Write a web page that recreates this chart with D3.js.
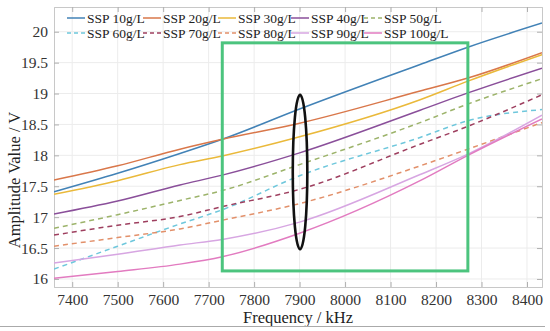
<!DOCTYPE html>
<html><head><meta charset="utf-8">
<script src="https://cdn.jsdelivr.net/npm/d3@7"></script>
<style>
body{margin:0;background:#fff;font-family:"Liberation Serif"}
text{font-family:"Liberation Serif"}
</style>
</head><body><svg id="c" width="550" height="331" font-family="Liberation Serif"></svg>
<script>
const freq = [7360, 7500, 7637, 7730, 7900, 8165, 8270, 8433];
const seriesNames = ["SSP 10g/L","SSP 20g/L","SSP 30g/L","SSP 40g/L","SSP 50g/L","SSP 60g/L","SSP 70g/L","SSP 80g/L","SSP 90g/L","SSP 100g/L"];
const s10  = [17.41, 17.71, 18.03, 18.26, 18.75, 19.47, 19.75, 20.14];
const s20  = [17.60, 17.83, 18.10, 18.26, 18.52, 19.04, 19.25, 19.66];
const s30  = [17.37, 17.59, 17.85, 17.99, 18.30, 18.90, 19.20, 19.63];
const s40  = [17.05, 17.26, 17.52, 17.68, 18.04, 18.73, 19.01, 19.41];
const s50  = [16.82, 17.04, 17.27, 17.43, 17.85, 18.53, 18.83, 19.24];
const s60  = [16.16, 16.53, 16.89, 17.12, 17.67, 18.29, 18.56, 18.74];
const s70  = [16.71, 16.87, 17.01, 17.17, 17.45, 18.18, 18.47, 18.98];
const s80  = [16.53, 16.67, 16.81, 16.95, 17.22, 17.83, 18.10, 18.53];
const s90  = [16.26, 16.40, 16.55, 16.64, 16.92, 17.69, 18.02, 18.65];
const s100 = [16.01, 16.12, 16.24, 16.36, 16.74, 17.59, 18.00, 18.59];
const allSeries = [s10,s20,s30,s40,s50,s60,s70,s80,s90,s100];
const colors = ["#4282b6","#d9774a","#eab93a","#8a4f9a","#9cb36a","#6ec7dc","#9e3f5f","#e2906a","#d7a6e2","#e27bc0"];
const dashed = [false,false,false,false,true,true,true,true,false,false];
const xTicks = [7400,7500,7600,7700,7800,7900,8000,8100,8200,8300,8400];
const yTicks = [16,16.5,17,17.5,18,18.5,19,19.5,20];
const box = {x0:7730, x1:8270, y0:16.13, y1:19.82};
const ell = {cx:7901, cy:17.73, rxk:16, top:18.98};

const svg = d3.select("#c");
const L=54, R=542, T=7, B=287;
const x = d3.scaleLinear().domain([7360,8433]).range([L,R]);
const y = d3.scaleLinear().domain([15.87,20.4]).range([B,T]);

// grid
const g = svg.append("g");
g.selectAll(".vg").data(xTicks).enter().append("line")
 .attr("x1",d=>x(d)).attr("x2",d=>x(d)).attr("y1",T).attr("y2",B)
 .attr("stroke","#ececec").attr("stroke-width",1);
g.selectAll(".hg").data(yTicks).enter().append("line")
 .attr("y1",d=>y(d)).attr("y2",d=>y(d)).attr("x1",L).attr("x2",R)
 .attr("stroke","#ececec").attr("stroke-width",1);

// axes
const xa = svg.append("g").attr("transform",`translate(0,${B})`)
 .call(d3.axisBottom(x).tickValues(xTicks).tickSize(-5).tickPadding(7).tickFormat(d3.format("d")));
const xa2 = svg.append("g").attr("transform",`translate(0,${T})`)
 .call(d3.axisTop(x).tickValues(xTicks).tickSize(-5).tickFormat(""));
const ya = svg.append("g").attr("transform",`translate(${L},0)`)
 .call(d3.axisLeft(y).tickValues(yTicks).tickSize(-5).tickPadding(6).tickFormat(d=>String(d)));
const ya2 = svg.append("g").attr("transform",`translate(${R},0)`)
 .call(d3.axisRight(y).tickValues(yTicks).tickSize(-5).tickFormat(""));
[xa,xa2,ya,ya2].forEach(a=>{
  a.attr("font-family","Liberation Serif").attr("font-size",15.5);
  a.selectAll("path").attr("stroke","#c8c8c8");
  a.selectAll("line").attr("stroke","#b0b0b0");
  a.selectAll("text").attr("fill","#333").attr("font-family","Liberation Serif");
});

// clip
svg.append("clipPath").attr("id","cp").append("rect").attr("x",L).attr("y",T).attr("width",R-L).attr("height",B-T);

const line = d3.line().x((d,i)=>x(freq[i])).y(d=>y(d)).curve(d3.curveMonotoneX);
const lg = svg.append("g").attr("clip-path","url(#cp)");
allSeries.forEach((s,i)=>{
  lg.append("path").attr("d",line(s)).attr("fill","none")
   .attr("stroke",colors[i]).attr("stroke-width",1.5)
   .attr("stroke-dasharray",dashed[i]?"5,4":null);
});

// green box
svg.append("rect").attr("x",x(box.x0)).attr("y",y(box.y1))
 .attr("width",x(box.x1)-x(box.x0)).attr("height",y(box.y0)-y(box.y1))
 .attr("fill","none").attr("stroke","#4cc47e").attr("stroke-width",3);

// ellipse
svg.append("ellipse").attr("cx",x(ell.cx)).attr("cy",y(ell.cy))
 .attr("rx",x(ell.cx+ell.rxk)-x(ell.cx)).attr("ry",y(ell.cy)-y(ell.top))
 .attr("fill","none").attr("stroke","#111").attr("stroke-width",2.6);

// legend
const colX=[67,143,218,291,364];
const leg = svg.append("g");
seriesNames.forEach((n,i)=>{
  const c=i%5, r=Math.floor(i/5);
  const lx=colX[c], ly=18+r*15;
  leg.append("line").attr("x1",lx).attr("x2",lx+18).attr("y1",ly).attr("y2",ly)
   .attr("stroke",colors[i]).attr("stroke-width",1.5).attr("stroke-dasharray",dashed[i]?"4,3":null);
  leg.append("text").attr("x",lx+20).attr("y",ly+4.5).text(n)
   .attr("fill","#222").attr("font-family","Liberation Serif").attr("font-size",13.5);
});

// axis labels
svg.append("text").attr("x",298).attr("y",323).attr("text-anchor","middle")
 .attr("font-family","Liberation Serif").attr("font-size",16.5).attr("fill","#222").text("Frequency / kHz");
svg.append("text").attr("transform",`translate(20,180) rotate(-90)`).attr("text-anchor","middle")
 .attr("font-family","Liberation Serif").attr("font-size",16.5).attr("fill","#222").text("Amplitude Value / V");
svg.append("line").attr("x1",0).attr("x2",545).attr("y1",326.5).attr("y2",326.5).attr("stroke","#aaa").attr("stroke-width",1);
</script></body></html>
